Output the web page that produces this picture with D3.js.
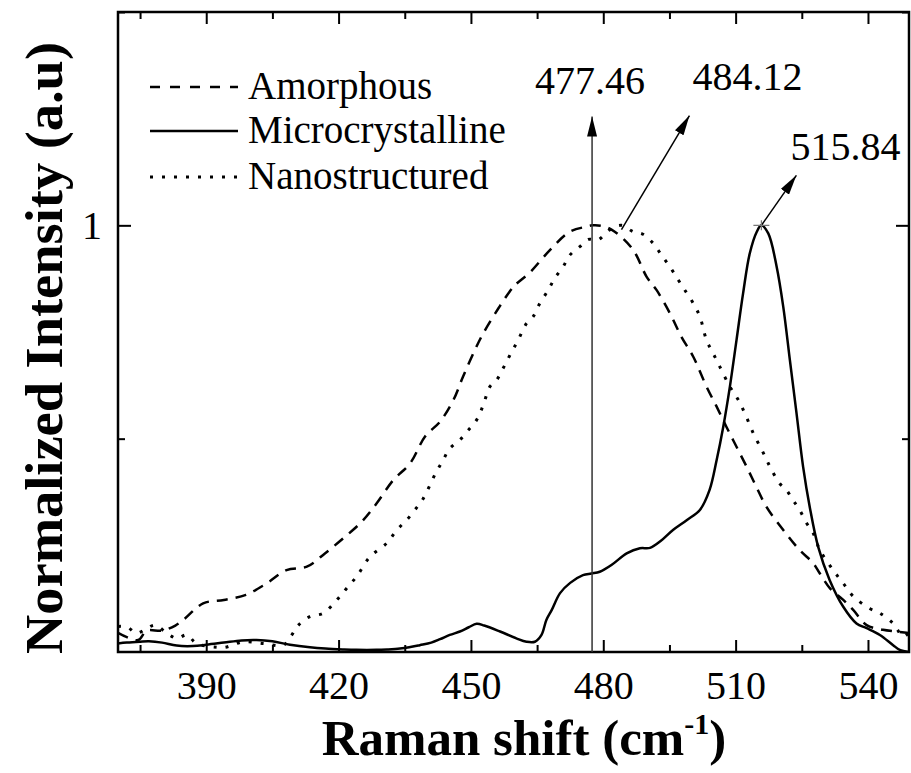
<!DOCTYPE html>
<html><head><meta charset="utf-8">
<script src="https://cdn.jsdelivr.net/npm/d3@7"></script>
<style>
body{margin:0;background:#fff;}
svg{display:block;}
text{font-family:"Liberation Serif","Times New Roman",serif;fill:#000;}
</style></head>
<body><svg id="c" width="911" height="773"></svg>
<script>
// ---- data ----
const xTicksMajor = [390, 420, 450, 480, 510, 540];
const xTicksMinor = [375, 405, 435, 465, 495, 525];
const yTicksMajor = [1];
const yTicksMinor = [0.5, 1.5];
const seriesNames = ["Amorphous", "Microcrystalline", "Nanostructured"];

const amorphousX = [370,372,374.6,376.5,380,383,385,389.3,394,399,403.7,408.2,412.8,416.9,421,425.2,428.6,432.4,436.2,439.6,443,446,448.2,450.9,452.8,456.2,458.8,460,463.4,467.9,472.4,476.2,477.46,480,482.6,486.8,489.8,492.1,495.1,497.7,500.4,503.4,505.7,507.9,510.2,512.5,514.7,517,520.8,524.5,527.6,529.1,531.4,534.4,536.7,539.7,543.4,546.5,549.5];
const amorphousY = [0.045,0.035,0.028,0.05,0.05,0.062,0.077,0.114,0.122,0.134,0.161,0.192,0.2,0.231,0.266,0.305,0.348,0.403,0.442,0.505,0.54,0.59,0.645,0.708,0.747,0.805,0.845,0.86,0.89,0.942,0.985,0.997,1.0,0.998,0.985,0.942,0.88,0.848,0.794,0.739,0.692,0.622,0.575,0.528,0.481,0.434,0.387,0.34,0.286,0.239,0.208,0.184,0.149,0.122,0.098,0.063,0.052,0.048,0.044];

const microX = [370,372,375,377,380,383.3,387,390,394,398,401.4,405,409,413.5,417,421,424,428.6,431,433.9,436,438.4,441,443,445.2,447.5,449.5,451.3,453,456.6,460.3,462.6,464.5,466,467.1,468.3,470.2,472.5,475.4,477.3,479.2,482,485.3,488.3,490.6,493,495.8,498.9,501.9,504.1,505.7,507.2,508.7,510.2,511.7,513.2,514.8,515.84,517.4,519.3,520.8,522.3,523.8,525.3,526.8,528.7,531.3,534.4,537.4,539.7,542.7,545.7,547.2,549.5];
const microY = [0.02,0.022,0.024,0.025,0.022,0.015,0.014,0.017,0.022,0.027,0.028,0.025,0.017,0.011,0.008,0.006,0.005,0.005,0.006,0.008,0.011,0.016,0.022,0.03,0.04,0.048,0.058,0.066,0.062,0.048,0.032,0.024,0.024,0.04,0.075,0.098,0.138,0.162,0.18,0.184,0.188,0.205,0.231,0.243,0.244,0.26,0.286,0.309,0.333,0.38,0.45,0.528,0.622,0.731,0.841,0.934,0.985,1.0,0.981,0.903,0.809,0.684,0.56,0.434,0.34,0.247,0.169,0.106,0.067,0.056,0.04,0.016,0.005,0.0];

const nanoX = [370,372,374.2,376.5,378.4,381,383.3,385.6,387.8,392.4,394.3,398.4,403,407.5,409.4,410.9,413.5,416.5,419.6,421.8,424.1,427.1,430.9,433.2,435.4,437.3,439.2,441.8,443.7,445.2,447.5,449.4,451.3,452.8,454.3,455.8,457.3,458.8,460.7,462.6,464.1,465.6,467.5,469,470.9,472.4,474.7,476.6,478.8,481.5,484.12,486.8,489,491.3,493.2,495.1,497,498.5,500.4,501.9,503.4,504.9,506.4,508.7,510.6,512.1,514,516.3,517.8,520,521.5,523,524.5,526.1,527.6,529.1,532.1,534.4,536.7,540.4,542.7,545.7,548,549.5];
const nanoY = [0.06,0.059,0.044,0.055,0.063,0.045,0.032,0.04,0.02,0.011,0.011,0.024,0.02,0.016,0.04,0.063,0.083,0.091,0.122,0.149,0.177,0.223,0.255,0.286,0.309,0.333,0.36,0.415,0.45,0.477,0.497,0.52,0.544,0.579,0.622,0.637,0.665,0.695,0.731,0.77,0.786,0.817,0.848,0.876,0.903,0.93,0.95,0.967,0.966,0.99,1.0,0.985,0.979,0.958,0.93,0.903,0.872,0.848,0.817,0.786,0.731,0.7,0.669,0.622,0.591,0.559,0.513,0.466,0.434,0.395,0.38,0.356,0.333,0.302,0.278,0.239,0.192,0.161,0.13,0.102,0.091,0.067,0.036,0.048];

const peakLabels = ["477.46", "484.12", "515.84"];
const peakX = [477.46, 484.12, 515.84];
const peakY = [1.0, 0.99, 1.0];

// ---- layout ----
const svg = d3.select("#c");
const L = 118, R = 909, T = 12, B = 652;
const x = d3.scaleLinear().domain([370, 549.3]).range([L, R]);
const y = d3.scaleLinear().domain([0, 1.5]).range([B, T]);

svg.append("defs").append("marker")
  .attr("id","ah").attr("viewBox","0 0 20 10").attr("refX",20).attr("refY",5)
  .attr("markerUnits","userSpaceOnUse").attr("markerWidth",20).attr("markerHeight",10)
  .attr("orient","auto")
  .append("path").attr("d","M0,0 L20,5 L0,10 Z").attr("fill","#000");

svg.append("clipPath").attr("id","pc").append("rect")
  .attr("x",L).attr("y",T).attr("width",R-L).attr("height",B-T);

// axes (inward ticks)
function styleAxis(g){ g.select(".domain").remove(); g.selectAll("line").attr("stroke","#000").attr("stroke-width",2); }
const fsTick = 40;
svg.append("g").attr("transform",`translate(0,${B})`)
  .call(d3.axisBottom(x).tickValues(xTicksMajor).tickSizeInner(-12).tickSizeOuter(0).tickPadding(19))
  .call(styleAxis)
  .call(g=>g.selectAll("text").attr("font-size",fsTick).attr("font-family","Liberation Serif"));
svg.append("g").attr("transform",`translate(0,${B})`)
  .call(d3.axisBottom(x).tickValues(xTicksMinor).tickSizeInner(-7).tickSizeOuter(0).tickFormat(""))
  .call(styleAxis);
svg.append("g").attr("transform",`translate(0,${T})`)
  .call(d3.axisTop(x).tickValues(xTicksMajor).tickSizeInner(-12).tickSizeOuter(0).tickFormat(""))
  .call(styleAxis);
svg.append("g").attr("transform",`translate(0,${T})`)
  .call(d3.axisTop(x).tickValues(xTicksMinor).tickSizeInner(-7).tickSizeOuter(0).tickFormat(""))
  .call(styleAxis);
svg.append("g").attr("transform",`translate(${L},0)`)
  .call(d3.axisLeft(y).tickValues(yTicksMajor).tickSizeInner(-13).tickSizeOuter(0).tickPadding(16).tickFormat(d3.format("d")))
  .call(styleAxis)
  .call(g=>g.selectAll("text").attr("font-size",fsTick).attr("font-family","Liberation Serif"));
svg.append("g").attr("transform",`translate(${L},0)`)
  .call(d3.axisLeft(y).tickValues(yTicksMinor).tickSizeInner(-7).tickSizeOuter(0).tickFormat(""))
  .call(styleAxis);
svg.append("g").attr("transform",`translate(${R},0)`)
  .call(d3.axisRight(y).tickValues(yTicksMajor).tickSizeInner(-13).tickSizeOuter(0).tickFormat(""))
  .call(styleAxis);
svg.append("g").attr("transform",`translate(${R},0)`)
  .call(d3.axisRight(y).tickValues(yTicksMinor).tickSizeInner(-7).tickSizeOuter(0).tickFormat(""))
  .call(styleAxis);

// curves
const line = d3.line().x(d=>x(d[0])).y(d=>y(d[1])).curve(d3.curveCatmullRom.alpha(0.5));
const plot = svg.append("g").attr("clip-path","url(#pc)");
const styles = [
  {dash:"11,8", width:2.5},
  {dash:null, width:2.5},
  {dash:"3,9", width:3}
];
const seriesData = [
  d3.zip(amorphousX, amorphousY),
  d3.zip(microX, microY),
  d3.zip(nanoX, nanoY)
];
seriesData.forEach((d,i)=>{
  plot.append("path").datum(d).attr("d",line).attr("fill","none")
    .attr("stroke","#000").attr("stroke-width",styles[i].width)
    .attr("stroke-dasharray",styles[i].dash);
});

// frame
svg.append("rect").attr("x",L).attr("y",T).attr("width",R-L).attr("height",B-T)
  .attr("fill","none").attr("stroke","#000").attr("stroke-width",2.5);

// annotations
svg.append("line").attr("x1",x(peakX[0])).attr("x2",x(peakX[0]))
  .attr("y1",y(0)).attr("y2",y(1.255)).attr("stroke","#333").attr("stroke-width",1.5)
  .attr("marker-end","url(#ah)");
svg.append("text").attr("x",x(peakX[0])-2).attr("y",94).attr("text-anchor","middle")
  .attr("font-size",40).text(peakLabels[0]);
svg.append("line").attr("x1",x(peakX[1])).attr("y1",y(peakY[1]))
  .attr("x2",x(peakX[1])+68).attr("y2",y(peakY[1])-114)
  .attr("stroke","#000").attr("stroke-width",1.5).attr("marker-end","url(#ah)");
svg.append("text").attr("x",x(peakX[1])+126).attr("y",90).attr("text-anchor","middle")
  .attr("font-size",40).text(peakLabels[1]);
svg.append("line").attr("x1",x(peakX[2])).attr("y1",y(peakY[2]))
  .attr("x2",x(peakX[2])+35).attr("y2",y(peakY[2])-50)
  .attr("stroke","#000").attr("stroke-width",1.5).attr("marker-end","url(#ah)");
svg.append("text").attr("x",x(peakX[2])+84).attr("y",160).attr("text-anchor","middle")
  .attr("font-size",40).text(peakLabels[2]);
svg.append("path").attr("d",`M${x(peakX[2])-8},${y(1)}h16M${x(peakX[2])},${y(1)-5}v10`)
  .attr("stroke","#777").attr("stroke-width",1.2);

// legend
const legY = [87, 131, 177];
seriesNames.forEach((n,i)=>{
  svg.append("line").attr("x1",150).attr("x2",238).attr("y1",legY[i]).attr("y2",legY[i])
    .attr("stroke","#000").attr("stroke-width",styles[i].width)
    .attr("stroke-dasharray", i===0 ? "10,10" : styles[i].dash);
  svg.append("text").attr("x",248).attr("y",legY[i]+12).attr("font-size",39).text(n);
});

// axis titles
const xt = svg.append("text").attr("x",524).attr("y",755)
  .attr("text-anchor","middle")
  .attr("font-size",51).attr("font-weight","bold");
xt.append("tspan").text("Raman shift (cm");
xt.append("tspan").attr("font-size",30).attr("dy",-21).text("-1");
xt.append("tspan").attr("dy",21).text(")");

svg.append("text").attr("transform","translate(62,348) rotate(-90)")
  .attr("text-anchor","middle").attr("font-size",52).attr("font-weight","bold")
  .attr("textLength",612).attr("lengthAdjust","spacingAndGlyphs")
  .text("Normalized Intensity (a.u)");
</script></body></html>
